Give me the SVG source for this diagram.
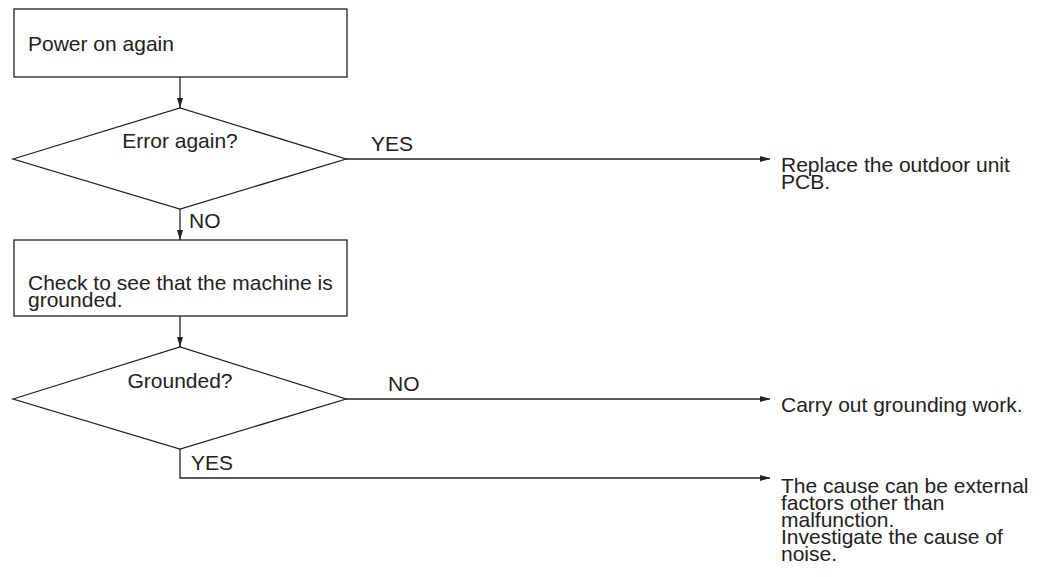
<svg xmlns="http://www.w3.org/2000/svg" width="1043" height="577" viewBox="0 0 1043 577">
<style>
.s{fill:#fff;stroke:#222;stroke-width:1.3}
.c{fill:none;stroke:#222;stroke-width:1.3}
text{font-family:"Liberation Sans",Arial,sans-serif;font-size:21px;fill:#222}
.m{text-anchor:middle}
</style>
<defs>
<marker id="a" viewBox="0 0 10 6" refX="10" refY="3" markerWidth="10" markerHeight="6" markerUnits="userSpaceOnUse" orient="auto">
<path d="M0,0 L10,3 L0,6 Z" fill="#222"/>
</marker>
</defs>
<g id="connectors">
<line class="c" x1="180" y1="77" x2="180" y2="108" marker-end="url(#a)"/>
<line class="c" x1="346" y1="159" x2="770" y2="159" marker-end="url(#a)"/>
<line class="c" x1="180" y1="209" x2="180" y2="240" marker-end="url(#a)"/>
<line class="c" x1="180" y1="316" x2="180" y2="347" marker-end="url(#a)"/>
<line class="c" x1="346" y1="399" x2="770" y2="399" marker-end="url(#a)"/>
<polyline class="c" points="180,449 180,478 770,478" marker-end="url(#a)"/>
<text x="371" y="151">YES</text>
<text x="189" y="228">NO</text>
<text x="388" y="391">NO</text>
<text x="191" y="470">YES</text>
</g>
<g id="power-on">
<rect class="s" x="14" y="9" width="333" height="68"/>
<text x="28" y="51">Power on again</text>
</g>
<g id="error-again">
<polygon class="s" points="13,159 180,108 346,159 180,209"/>
<text class="m" x="180" y="148">Error again?</text>
</g>
<g id="check-ground">
<rect class="s" x="14" y="240" width="333" height="76"/>
<text x="28" y="290">Check to see that the machine is</text>
<text x="28" y="307">grounded.</text>
</g>
<g id="grounded">
<polygon class="s" points="13,399 180,347 346,399 180,449"/>
<text class="m" x="180" y="388">Grounded?</text>
</g>
<g id="replace-pcb">
<text x="781" y="172">Replace the outdoor unit</text>
<text x="781" y="189">PCB.</text>
</g>
<g id="grounding-work">
<text x="781" y="412">Carry out grounding work.</text>
</g>
<g id="external-cause">
<text x="781" y="493">The cause can be external</text>
<text x="781" y="510">factors other than</text>
<text x="781" y="527">malfunction.</text>
<text x="781" y="544">Investigate the cause of</text>
<text x="781" y="561">noise.</text>
</g>
</svg>
